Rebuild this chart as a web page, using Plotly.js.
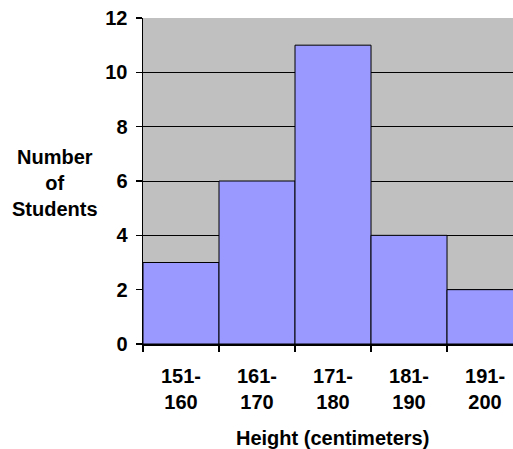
<!DOCTYPE html>
<html>
<head>
<meta charset="utf-8">
<script src="https://cdn.plot.ly/plotly-3.0.1.min.js"></script>
<style>html,body{margin:0;padding:0;overflow:hidden;background:#fff}</style>
</head>
<body>
<div id="chart" style="width:513px;height:449px"></div>
<script>
const categories = ["151-<br>160", "161-<br>170", "171-<br>180", "181-<br>190", "191-<br>200"];
const students = [3, 6, 11, 4, 2];
const yTicks = [0, 2, 4, 6, 8, 10, 12];
const xTitle = "Height (centimeters)";
const yTitle = "Number<br>of<br>Students";

const fam = "Liberation Sans, Arial, sans-serif";
const bold = {family: fam, size: 20, color: "#000", weight: "bold"};

Plotly.newPlot("chart", [{
  type: "bar",
  x: categories,
  y: students,
  marker: {color: "#9999FF", line: {color: "#000", width: 1}},
  hoverinfo: "none"
}], {
  width: 513, height: 449,
  margin: {l: 143, r: 0, t: 18, b: 105, pad: 0},
  paper_bgcolor: "#fff",
  plot_bgcolor: "#C0C0C0",
  bargap: 0,
  showlegend: false,
  font: {family: fam, size: 20, color: "#000"},
  xaxis: {
    type: "category",
    range: [-0.5, 4.368],
    tickson: "boundaries",
    ticks: "outside", ticklen: 6, tickcolor: "#000", tickwidth: 1.5,
    showline: true, linecolor: "#000", linewidth: 1.5,
    showgrid: false, zeroline: false,
    tickfont: bold,
    ticklabelstandoff: 13
  },
  yaxis: {
    range: [0, 12],
    tickvals: yTicks,
    ticktext: yTicks.map(String),
    ticks: "outside", ticklen: 6, tickcolor: "#000", tickwidth: 1.5,
    showline: true, linecolor: "#000", linewidth: 1.5,
    showgrid: true, gridcolor: "#000", gridwidth: 1,
    zeroline: false,
    tickfont: bold,
    ticklabelstandoff: 4
  },
  annotations: [
    {text: yTitle, xref: "paper", yref: "paper", x: (55 - 143) / 370, y: (344 - 183) / 326,
     xanchor: "center", yanchor: "middle", showarrow: false, align: "center", font: bold},
    {text: xTitle, xref: "paper", yref: "paper", x: (332 - 143) / 370, y: (344 - 438) / 326,
     xanchor: "center", yanchor: "middle", showarrow: false, font: bold}
  ]
}, {staticPlot: true});
</script>
</body>
</html>
